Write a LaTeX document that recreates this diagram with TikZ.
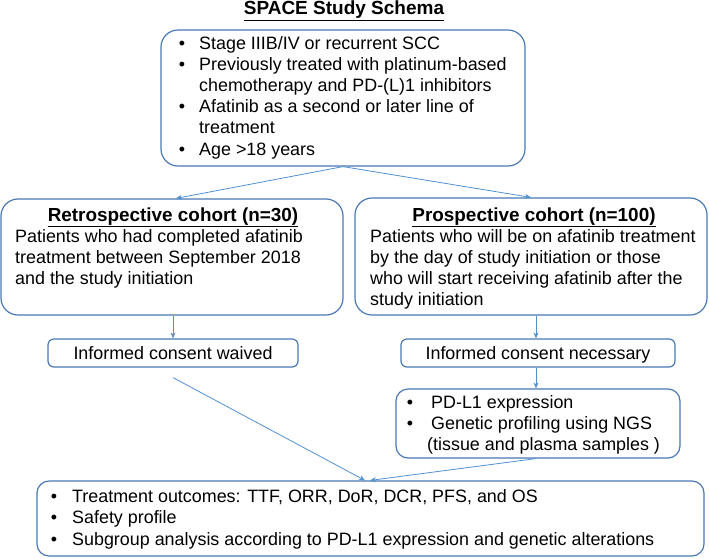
\documentclass[tikz,border=0pt]{standalone}
\usepackage{fontspec}
\setmainfont{Liberation Sans}
\usetikzlibrary{arrows.meta}
\definecolor{boxblue}{RGB}{74,120,180}
\definecolor{arrblue}{RGB}{80,145,210}
\newcommand{\bodyfs}{\fontsize{17.9}{21}\selectfont}
\newcommand{\headfs}{\fontsize{18.9}{22}\selectfont\bfseries}
\begin{document}
\begin{tikzpicture}[x=1pt,y=-1pt,
  box/.style={draw=boxblue,line width=1.2pt,inner sep=0pt,rectangle},
  txt/.style={inner sep=0pt,anchor=base west,font=\bodyfs},
  bul/.style={inner sep=0pt,anchor=base,font=\bodyfs},
  head/.style={inner sep=0pt,anchor=base,font=\headfs},
  arr/.style={draw=arrblue,line width=0.8pt,-{Stealth[length=6pt,width=5pt]}}]
\useasboundingbox (0,0) rectangle (709,558);

% title
\node[head,font=\fontsize{19}{22}\selectfont\bfseries] (title) at (344,14.5) {\underline{SPACE Study Schema}};

% boxes
\node[box,rounded corners=17pt,minimum width=364pt,minimum height=136pt] (top) at (343,98) {};
\node[box,rounded corners=17pt,minimum width=342pt,minimum height=116pt] (retro) at (172,257) {};
\node[box,rounded corners=17pt,minimum width=352pt,minimum height=117pt] (prosp) at (531,256.5) {};
\node[box,rounded corners=6pt,minimum width=250pt,minimum height=28pt] (waived) at (173,353) {};
\node[box,rounded corners=6pt,minimum width=274pt,minimum height=28pt] (necess) at (538,353) {};
\node[box,rounded corners=12pt,minimum width=284pt,minimum height=69pt] (pdl) at (538,423.5) {};
\node[box,rounded corners=12pt,minimum width=667pt,minimum height=75pt] (outc) at (370.5,518.5) {};

% top box text
\node[bul] (tb1) at (182,49.5) {•};
\node[txt] (tt1) at (199,49.5) {Stage IIIB/IV or recurrent SCC};
\node[bul] (tb2) at (182,70.6) {•};
\node[txt] (tt2) at (199,70.6) {Previously treated with platinum-based};
\node[txt] (tt3) at (199,91.7) {chemotherapy and PD-(L)1 inhibitors};
\node[bul] (tb4) at (182,112.8) {•};
\node[txt] (tt4) at (199,112.8) {Afatinib as a second or later line of};
\node[txt] (tt5) at (199,133.9) {treatment};
\node[bul] (tb6) at (182,155) {•};
\node[txt] (tt6) at (199,155) {Age >18 years};

% retrospective
\node[head] (rh) at (173,221) {\underline{Retrospective cohort (n=30)}};
\node[txt] (r1) at (15,242) {Patients who had completed afatinib};
\node[txt] (r2) at (15,263) {treatment between September 2018};
\node[txt] (r3) at (15,284) {and the study initiation};

% prospective
\node[head] (ph) at (534,221) {\underline{Prospective cohort (n=100)}};
\node[txt] (p1) at (370,242) {Patients who will be on afatinib treatment};
\node[txt] (p2) at (370,263) {by the day of study initiation or those};
\node[txt] (p3) at (370,284) {who will start receiving afatinib after the};
\node[txt] (p4) at (370,305) {study initiation};

% consent boxes text
\node[bul] (wt) at (173,359) {Informed consent waived};
\node[bul] (nt) at (538,359) {Informed consent necessary};

% PD-L1 box text
\node[bul] (pb1) at (410,408.5) {•};
\node[txt] (pt1) at (431,408.5) {PD-L1 expression};
\node[bul] (pb2) at (410,429.5) {•};
\node[txt] (pt2) at (431,429.5) {Genetic profiling using NGS};
\node[txt] (pt3) at (427,450.5) {(tissue and plasma samples )};

% outcome box text
\node[bul] (ob1) at (54,502) {•};
\node[txt] (ot1) at (72,502) {Treatment outcomes: TTF, ORR, DoR, DCR, PFS, and OS};
\node[bul] (ob2) at (54,523.5) {•};
\node[txt] (ot2) at (72,523.5) {Safety profile};
\node[bul] (ob3) at (54,545) {•};
\node[txt] (ot3) at (72,545) {Subgroup analysis according to PD-L1 expression and genetic alterations};

% connectors
\draw[arr] (top.south) -- ([xshift=4pt]retro.north);
\draw[arr] (top.south) -- (prosp.north);
\draw[arr] ([xshift=1pt]retro.south) -- ([xshift=1pt]retro.south |- waived.north);
\draw[arr] ([xshift=-2pt]necess.north |- prosp.south) -- ([xshift=-2pt]necess.north);
\draw[arr] ([xshift=-2pt]necess.south) -- ([xshift=-2pt]necess.south |- pdl.north);
\coordinate (wstart) at ([yshift=-10pt]waived.south);
\draw[arr] (wstart) -- ([xshift=-5.5pt]outc.north);
\draw[arr] ([xshift=-2pt]pdl.south) -- ([xshift=-0.5pt]outc.north);
\end{tikzpicture}
\end{document}
